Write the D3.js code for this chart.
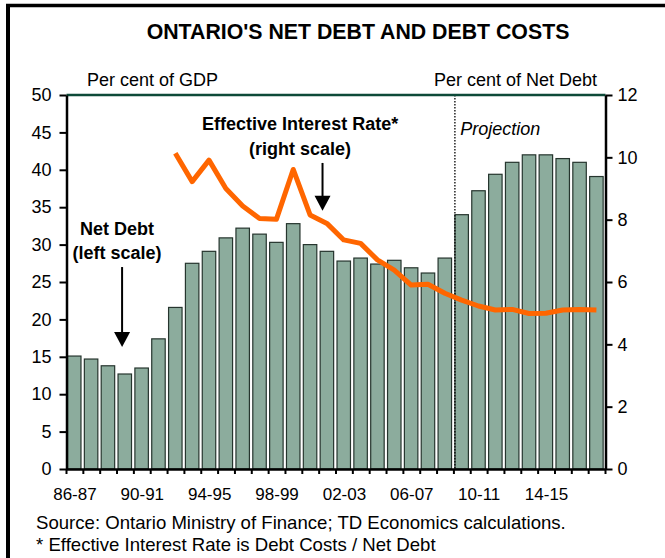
<!DOCTYPE html>
<html>
<head>
<meta charset="utf-8">
<script src="https://cdn.jsdelivr.net/npm/d3@7"></script>
<style>
  body { margin: 0; background: #fff; }
  svg { font-family: Arial, "Liberation Sans", sans-serif; }
</style>
</head>
<body>
<script>
// fiscal years (categories)
const years = ["86-87","87-88","88-89","89-90","90-91","91-92","92-93","93-94",
  "94-95","95-96","96-97","97-98","98-99","99-00","00-01","01-02",
  "02-03","03-04","04-05","05-06","06-07","07-08","08-09","09-10",
  "10-11","11-12","12-13","13-14","14-15","15-16","16-17","17-18"];
const tickYears = ["86-87","90-91","94-95","98-99","02-03","06-07","10-11","14-15"];

// net debt, per cent of GDP (left scale)
const netDebt = [15.1,14.7,13.8,12.7,13.5,17.4,21.6,27.5,
  29.1,30.9,32.2,31.4,30.3,32.8,30.0,29.1,
  27.8,28.2,27.4,27.9,26.9,26.2,28.2,34.0,
  37.2,39.4,41.0,42.0,42.0,41.5,41.0,39.1];

// effective interest rate, per cent of net debt (right scale)
const rate = [null,null,null,null,null,null,10.13,9.22,
  9.91,9.0,8.44,8.04,8.01,9.61,8.15,7.88,
  7.35,7.24,6.71,6.38,5.9,5.93,5.64,5.42,
  5.23,5.1,5.12,4.99,5.0,5.1,5.12,5.1];

const leftTicks = [0,5,10,15,20,25,30,35,40,45,50];
const rightTicks = [0,2,4,6,8,10,12];
const firstProjection = "09-10";

const W = 665, H = 558;
const pLeft = 66.5, pRight = 605.5, pTop = 95, pBottom = 469;

const svg = d3.select("body").append("svg")
  .attr("width", W).attr("height", H);

// frame (left and top edges visible)
svg.append("line").attr("x1", 8).attr("x2", 8).attr("y1", 4).attr("y2", H)
  .attr("stroke", "#000").attr("stroke-width", 4);
svg.append("line").attr("x1", 6).attr("x2", W).attr("y1", 5.5).attr("y2", 5.5)
  .attr("stroke", "#000").attr("stroke-width", 3.5);

const x = d3.scaleBand().domain(years).range([pLeft, pRight]).padding(0);
const bw = x.bandwidth();
const xi = d3.scaleLinear().domain([0, years.length]).range([pLeft, pRight]);
const yL = d3.scaleLinear().domain([0, 50]).range([pBottom, pTop]);
const yR = d3.scaleLinear().domain([0, 12]).range([pBottom, pTop]);

// title
svg.append("text")
  .attr("x", 358).attr("y", 39)
  .attr("text-anchor", "middle")
  .style("font-size", "21.3px").style("font-weight", "bold")
  .text("ONTARIO'S NET DEBT AND DEBT COSTS");

svg.append("text").attr("x", 87).attr("y", 86)
  .style("font-size", "18px").text("Per cent of GDP");
svg.append("text").attr("x", 597).attr("y", 86)
  .attr("text-anchor", "end")
  .style("font-size", "18px").text("Per cent of Net Debt");

// bars
svg.selectAll("rect.bar")
  .data(netDebt)
  .enter()
  .append("rect")
  .attr("class", "bar")
  .attr("x", (d, i) => x(years[i]) + bw * 0.06)
  .attr("y", d => yL(d))
  .attr("width", bw * 0.8)
  .attr("height", d => yL(0) - yL(d))
  .attr("fill", "#8cac9d")
  .attr("stroke", "#26352e")
  .attr("stroke-width", 1.2);

// projection divider
svg.append("line")
  .attr("x1", x(firstProjection) + 1).attr("x2", x(firstProjection) + 1)
  .attr("y1", pTop).attr("y2", pBottom)
  .attr("stroke", "#000").attr("stroke-width", 1.3)
  .attr("stroke-dasharray", "1.5,1.5");

// top border of plot
svg.append("line").attr("x1", pLeft).attr("x2", pRight)
  .attr("y1", pTop).attr("y2", pTop)
  .attr("stroke", "#0d4a38").attr("stroke-width", 2.5);

// interest rate line
const line = d3.line()
  .defined(d => d != null)
  .x((d, i) => x(years[i]) + bw * 0.46)
  .y(d => yR(d));

svg.append("path")
  .datum(rate)
  .attr("d", line)
  .attr("fill", "none")
  .attr("stroke", "#ff6600")
  .attr("stroke-width", 5)
  .attr("stroke-linejoin", "round");

// axes
const yAxisL = d3.axisLeft(yL).tickValues(leftTicks).tickSize(7).tickSizeOuter(0).tickPadding(8);
const gL = svg.append("g")
  .attr("transform", "translate(" + pLeft + ",0)")
  .call(yAxisL);

const yAxisR = d3.axisRight(yR).tickValues(rightTicks).tickSize(7).tickSizeOuter(0).tickPadding(5);
const gR = svg.append("g")
  .attr("transform", "translate(" + pRight + ",0)")
  .call(yAxisR);

[gL, gR].forEach(g => {
  g.select(".domain").attr("stroke-width", 2.5);
  g.selectAll(".tick line").attr("stroke-width", 2);
  g.selectAll("text").style("font-size", "18px").attr("fill", "#000")
    .style("font-family", "Arial, 'Liberation Sans', sans-serif");
});

const xAxis = d3.axisBottom(x).tickValues(tickYears).tickSize(0).tickPadding(19);
const gX = svg.append("g")
  .attr("transform", "translate(0," + pBottom + ")")
  .call(xAxis);
gX.select(".domain").attr("stroke-width", 2.5);
gX.selectAll("text").style("font-size", "17px").attr("fill", "#000")
  .style("font-family", "Arial, 'Liberation Sans', sans-serif");

// category boundary ticks
svg.append("g").selectAll("line")
  .data(d3.range(years.length + 1))
  .enter().append("line")
  .attr("x1", d => xi(d)).attr("x2", d => xi(d))
  .attr("y1", pBottom).attr("y2", pBottom + 5)
  .attr("stroke", "#000").attr("stroke-width", 2);

// annotations
svg.append("text").attr("x", xi(3.0)).attr("y", yL(31.3))
  .attr("text-anchor", "middle")
  .style("font-size", "18px").style("font-weight", "bold")
  .text("Net Debt");
svg.append("text").attr("x", xi(3.0)).attr("y", yL(28.1))
  .attr("text-anchor", "middle")
  .style("font-size", "18px").style("font-weight", "bold")
  .text("(left scale)");

svg.append("text").attr("x", xi(13.87)).attr("y", yR(10.88))
  .attr("text-anchor", "middle")
  .style("font-size", "18px").style("font-weight", "bold")
  .text("Effective Interest Rate*");
svg.append("text").attr("x", xi(13.87)).attr("y", yR(10.07))
  .attr("text-anchor", "middle")
  .style("font-size", "18px").style("font-weight", "bold")
  .text("(right scale)");

svg.append("text").attr("x", xi(23.37)).attr("y", yR(10.72))
  .style("font-size", "18px").style("font-style", "italic")
  .text("Projection");

const arrow = (ax, y1, y2) => {
  svg.append("line").attr("x1", ax).attr("x2", ax)
    .attr("y1", y1).attr("y2", y2 - 10)
    .attr("stroke", "#000").attr("stroke-width", 2);
  svg.append("path")
    .attr("d", `M${ax - 8},${y2 - 15}L${ax + 8},${y2 - 15}L${ax},${y2}Z`)
    .attr("fill", "#000");
};
arrow(xi(3.3), yL(27.0), yL(16.3));
arrow(xi(15.2), yR(9.82), yR(8.29));

// notes
svg.append("text").attr("x", 36).attr("y", 529)
  .style("font-size", "18.6px")
  .text("Source: Ontario Ministry of Finance; TD Economics calculations.");
svg.append("text").attr("x", 36).attr("y", 551)
  .style("font-size", "18.6px")
  .text("* Effective Interest Rate is Debt Costs / Net Debt");
</script>
</body>
</html>
